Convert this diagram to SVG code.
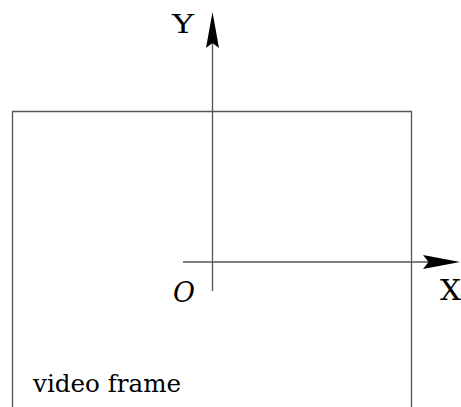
<svg xmlns="http://www.w3.org/2000/svg" width="461" height="407" viewBox="0 0 461 407">
<style>
.ln{stroke:#555;stroke-width:1.3;fill:none}
.ah{fill:#000;stroke:none}
.t{font-family:"DejaVu Serif","Liberation Serif",serif;fill:#000}
</style>
<rect width="461" height="407" fill="#fff"/>
<g id="frame">
<path class="ln" d="M12.5,407 V111.5 H411.5 V407"/>
<text class="t" x="33" y="392" font-size="25" textLength="148" lengthAdjust="spacingAndGlyphs">video frame</text>
</g>
<g id="connectors">
<line class="ln" x1="212.5" y1="291" x2="212.5" y2="40"/>
<path class="ah" d="M212.5,12 L219,48 L212.5,43 L206,48 Z"/>
<line class="ln" x1="183" y1="262" x2="430" y2="262"/>
<path class="ah" d="M460,262 L423,255 L428.5,262 L423,269 Z"/>
</g>
<g id="labels">
<text class="t" x="172" y="33" font-size="26" textLength="22" lengthAdjust="spacingAndGlyphs">Y</text>
<text class="t" x="440" y="300" font-size="27" textLength="21" lengthAdjust="spacingAndGlyphs">X</text>
<text class="t" x="173" y="302" font-size="27" font-style="italic" textLength="22" lengthAdjust="spacingAndGlyphs">O</text>
</g>
</svg>
